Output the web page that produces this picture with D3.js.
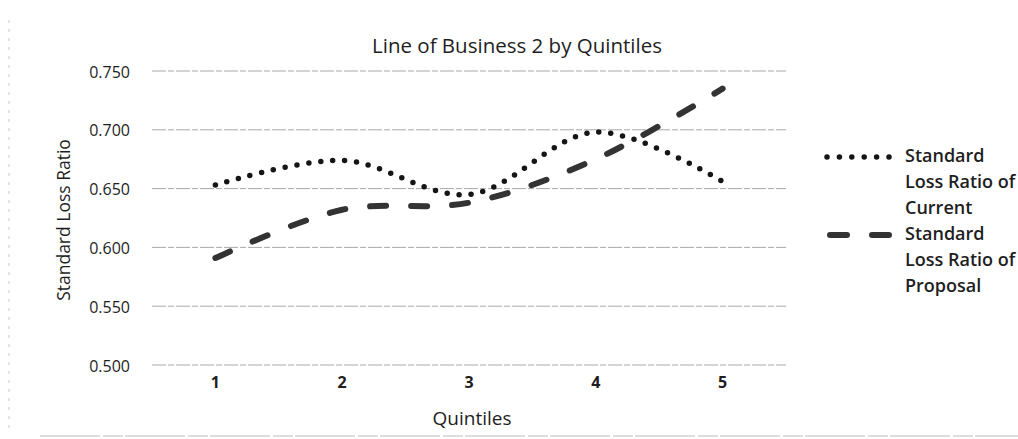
<!DOCTYPE html>
<html>
<head>
<meta charset="utf-8">
<script src="https://cdn.jsdelivr.net/npm/d3@7"></script>
<style>
  html, body { margin: 0; padding: 0; background: #fff; }
  svg { display: block; }
  text { font-family: "Open Sans", "Noto Sans", sans-serif; fill: #1e1e1e; }
</style>
</head>
<body>
<svg id="chart" width="1018" height="439"></svg>
<script>
const categories = ["1", "2", "3", "4", "5"];
const currentValues = [0.653, 0.674, 0.645, 0.698, 0.656];
const proposalValues = [0.591, 0.632, 0.638, 0.675, 0.735];
const yTicks = [0.500, 0.550, 0.600, 0.650, 0.700, 0.750];
const seriesNames = [["Standard", "Loss Ratio of", "Current"], ["Standard", "Loss Ratio of", "Proposal"]];

const svg = d3.select("#chart");
const plotLeft = 152, plotRight = 786, plotTop = 71, plotBottom = 365;

const x = d3.scaleBand().domain(categories).range([plotLeft, plotRight]);
const y = d3.scaleLinear().domain([0.5, 0.75]).range([plotBottom, plotTop]);
const cx = d => x(d) + x.bandwidth() / 2;

// faint chart border (scan)
svg.append("line").attr("x1", 40).attr("x2", 1018).attr("y1", 436).attr("y2", 436)
  .attr("stroke", "#bbb").attr("stroke-width", 1).attr("stroke-dasharray", "60 3 20 2");
svg.append("line").attr("x1", 9).attr("x2", 9).attr("y1", 20).attr("y2", 430)
  .attr("stroke", "#ccc").attr("stroke-width", 1).attr("stroke-dasharray", "3 6");

// gridlines
svg.append("g").selectAll("line").data(yTicks).join("line")
  .attr("x1", plotLeft).attr("x2", plotRight)
  .attr("y1", d => y(d)).attr("y2", d => y(d))
  .attr("stroke", "#a8a8a8").attr("stroke-width", 1).attr("stroke-dasharray", "14 2 6 2");

// y axis labels
const yAxis = d3.axisLeft(y).tickValues(yTicks).tickFormat(d3.format(".3f")).tickSize(0).tickPadding(0);
const gy = svg.append("g").attr("transform", `translate(130,1)`).call(yAxis);
gy.select(".domain").remove();
gy.selectAll("text").style("font-size", "16px").style("font-family", '"Open Sans", sans-serif').attr("fill", "#1e1e1e");

// x axis labels
const xAxis = d3.axisBottom(x).tickSize(0).tickPadding(0);
const gx = svg.append("g").attr("transform", `translate(0,377)`).call(xAxis);
gx.select(".domain").remove();
gx.selectAll("text").style("font-size", "16px").style("font-weight", "bold")
  .style("font-family", '"Open Sans", sans-serif').attr("fill", "#1e1e1e");

// titles
svg.append("text").attr("x", 517).attr("y", 53).attr("text-anchor", "middle")
  .style("font-size", "20.5px").text("Line of Business 2 by Quintiles");
svg.append("text").attr("x", 472).attr("y", 425).attr("text-anchor", "middle")
  .style("font-size", "19px").text("Quintiles");
svg.append("text").attr("transform", "translate(70,220) rotate(-90)").attr("text-anchor", "middle")
  .style("font-size", "17.5px").text("Standard Loss Ratio");

// lines
const line = d3.line().x((d, i) => cx(categories[i])).y(d => y(d)).curve(d3.curveCatmullRom.alpha(0.5));

svg.append("path").datum(proposalValues).attr("d", line)
  .attr("fill", "none").attr("stroke", "#333").attr("stroke-width", 6)
  .attr("stroke-linecap", "round").attr("stroke-dasharray", "16 25");

svg.append("path").datum(currentValues).attr("d", line)
  .attr("fill", "none").attr("stroke", "#151515").attr("stroke-width", 5.5)
  .attr("stroke-linecap", "round").attr("stroke-dasharray", "0 12");

// legend
const lg = svg.append("g");
lg.append("line").attr("x1", 827).attr("x2", 889).attr("y1", 157).attr("y2", 157)
  .attr("stroke", "#151515").attr("stroke-width", 5.5).attr("stroke-linecap", "round").attr("stroke-dasharray", "0 12.4");
lg.append("line").attr("x1", 830).attr("x2", 891).attr("y1", 235).attr("y2", 235)
  .attr("stroke", "#333").attr("stroke-width", 6).attr("stroke-linecap", "round").attr("stroke-dasharray", "17 25");
seriesNames.forEach((lines, k) => {
  const t = lg.append("text").attr("x", 905).attr("y", [162, 240][k])
    .style("font-size", "18px").style("font-weight", "600");
  lines.forEach((s, j) => t.append("tspan").attr("x", 905).attr("dy", j === 0 ? 0 : 26).text(s));
});
</script>
</body>
</html>
